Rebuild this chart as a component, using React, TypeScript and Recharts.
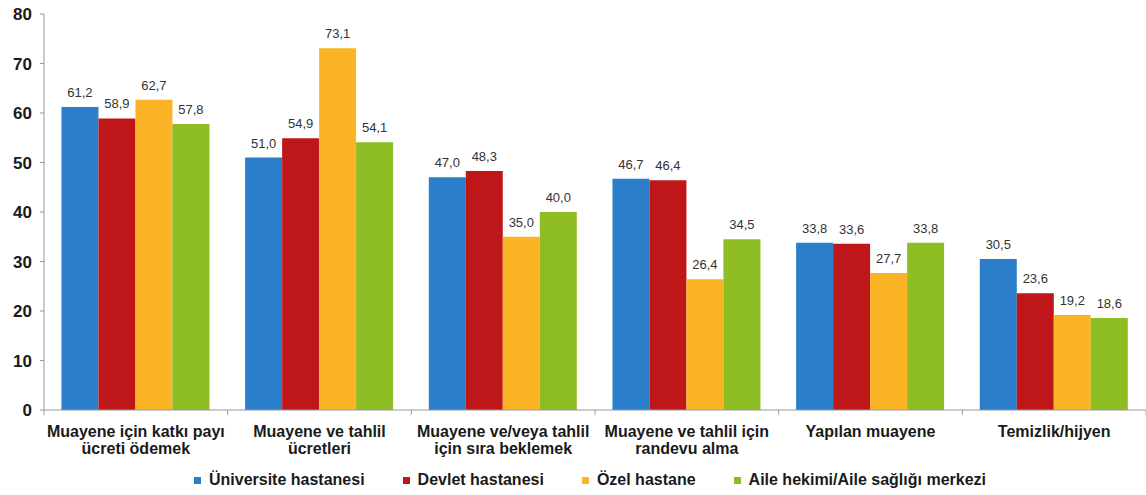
import { BarChart, Bar, XAxis, YAxis, Legend, LabelList } from "recharts";

const categories = [
  "Muayene için katkı payı\nücreti ödemek",
  "Muayene ve tahlil\nücretleri",
  "Muayene ve/veya tahlil\niçin sıra beklemek",
  "Muayene ve tahlil için\nrandevu alma",
  "Yapılan muayene",
  "Temizlik/hijyen",
];
const universite = [61.2, 51.0, 47.0, 46.7, 33.8, 30.5];
const devlet = [58.9, 54.9, 48.3, 46.4, 33.6, 23.6];
const ozel = [62.7, 73.1, 35.0, 26.4, 27.7, 19.2];
const aile = [57.8, 54.1, 40.0, 34.5, 33.8, 18.6];
const yTicks = [0, 10, 20, 30, 40, 50, 60, 70, 80];

const series = [
  { key: "universite", name: "Üniversite hastanesi", color: "#2B7EC9" },
  { key: "devlet", name: "Devlet hastanesi", color: "#BE1619" },
  { key: "ozel", name: "Özel hastane", color: "#FBB425" },
  { key: "aile", name: "Aile hekimi/Aile sağlığı merkezi", color: "#8DBD22" },
];

const data = categories.map((c, i) => ({
  name: c,
  universite: universite[i],
  devlet: devlet[i],
  ozel: ozel[i],
  aile: aile[i],
}));

const FONT = "'Liberation Sans', Arial, sans-serif";

function CategoryTick(props: any) {
  const { x, y, payload, index } = props;
  const lines = String(payload.value).split("\n");
  const off = payload.offset || 0;
  return (
    <g>
      <line x1={x - off} x2={x - off} y1={y - 8} y2={y - 3} stroke="#999" />
      {index === categories.length - 1 && (
        <line x1={x + off} x2={x + off} y1={y - 8} y2={y - 3} stroke="#999" />
      )}
      <text
        x={x}
        y={y}
        textAnchor="middle"
        fill="#1a1a1a"
        fontFamily={FONT}
        fontWeight="bold"
        fontSize={16}
      >
        {lines.map((l, i) => (
          <tspan key={i} x={x} dy={i === 0 ? 19 : 17}>
            {l}
          </tspan>
        ))}
      </text>
    </g>
  );
}

// legend follows series order (recharts would sort it by name)
function LegendContent() {
  return (
    <div
      style={{
        display: "flex",
        justifyContent: "center",
        alignItems: "center",
        height: 30,
        gap: 38,
        paddingLeft: 34,
        fontFamily: FONT,
        fontWeight: "bold",
        fontSize: 16,
        color: "#1a1a1a",
      }}
    >
      {series.map((s) => (
        <div key={s.key} style={{ display: "flex", alignItems: "center" }}>
          <span
            style={{
              display: "inline-block",
              width: 7,
              height: 7,
              background: s.color,
              marginRight: 8,
            }}
          />
          {s.name}
        </div>
      ))}
    </div>
  );
}

const fmt = (v: any) => Number(v).toFixed(1).replace(".", ",");

export default function App() {
  return (
    <div style={{ position: "absolute", left: 0, top: 0, background: "#fff" }}>
      <BarChart
        width={1146}
        height={495}
        data={data}
        margin={{ top: 14, right: 0, bottom: 0, left: 0 }}
        barCategoryGap="9.5%"
        barGap={0}
      >
        <XAxis
          dataKey="name"
          interval={0}
          tickLine={false}
          axisLine={{ stroke: "#999" }}
          tick={<CategoryTick />}
          height={55}
        />
        <YAxis
          domain={[0, 80]}
          ticks={yTicks}
          width={44}
          tickSize={4}
          tickMargin={8}
          axisLine={{ stroke: "#999" }}
          tickLine={{ stroke: "#999" }}
          tick={{ fill: "#1a1a1a", fontSize: 17, fontWeight: "bold", fontFamily: FONT }}
        />
        <Legend verticalAlign="bottom" height={30} content={<LegendContent />} />
        {series.map((s) => (
          <Bar key={s.key} dataKey={s.key} name={s.name} fill={s.color} isAnimationActive={false}>
            <LabelList
              dataKey={s.key}
              position="top"
              offset={10}
              formatter={fmt}
              style={{ fill: "#333", fontSize: 13, fontFamily: FONT }}
            />
          </Bar>
        ))}
      </BarChart>
    </div>
  );
}
